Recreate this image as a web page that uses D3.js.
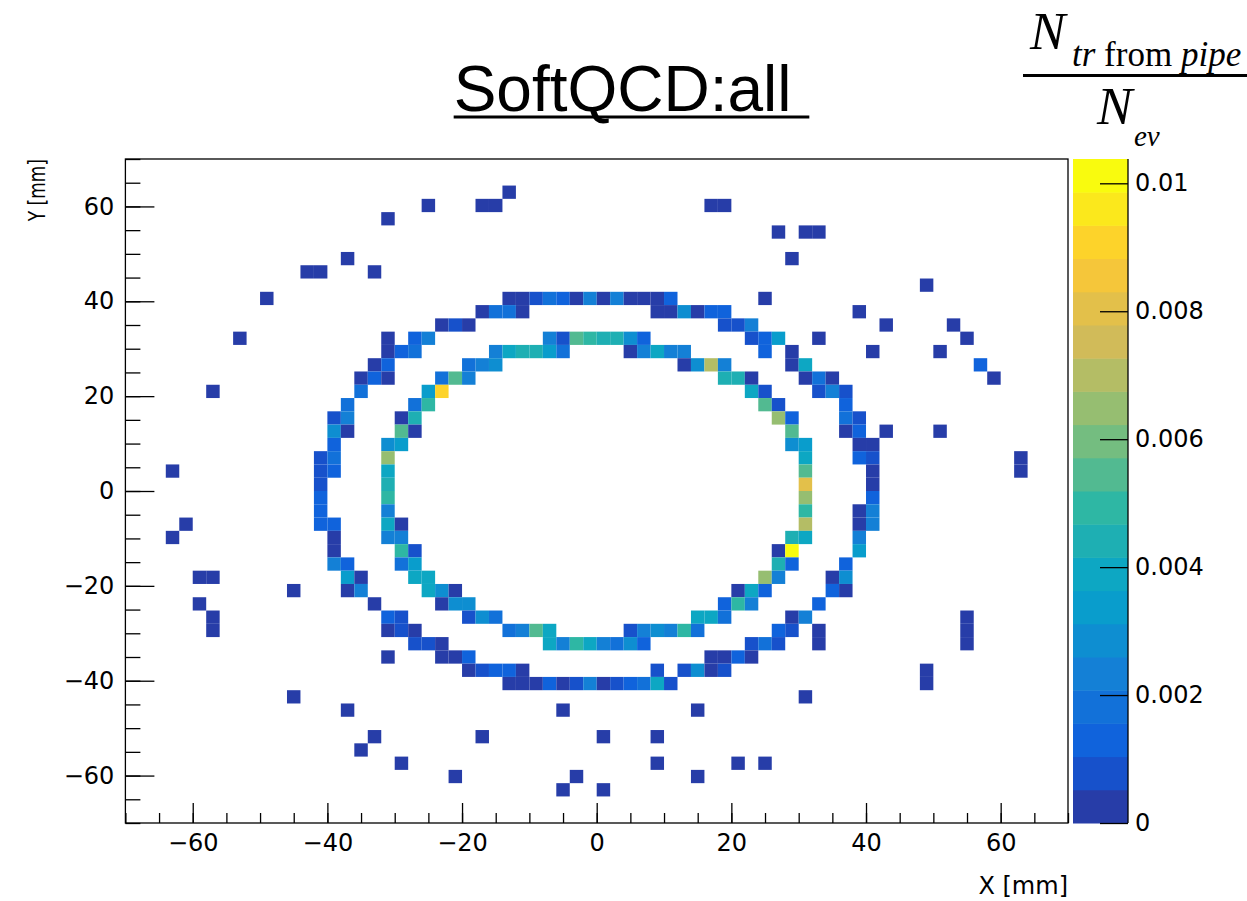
<!DOCTYPE html>
<html>
<head>
<meta charset="utf-8">
<script src="https://cdn.jsdelivr.net/npm/d3@7"></script>
<style>
  body { margin: 0; background: #fff; }
  .tick text { font-family: "DejaVu Sans", sans-serif; font-size: 24px; fill: #000; }
  .tick line { stroke: #000; stroke-width: 1.3; }
</style>
</head>
<body>
<div id="chart"></div>
<script>
var svgWidth = 1247;
var svgHeight = 901;

var margin = { top: 159, right: 179, bottom: 78, left: 125.4 };
var width = svgWidth - margin.left - margin.right;
var height = svgHeight - margin.top - margin.bottom;

// histogram binning (mm)
var xRange = [-70, 70];
var nBinsX = 70;
var yRange = [-70, 70];
var nBinsY = 50;

// colour axis
var zMax = 0.01038;
var nContours = 20;

var xTicks = [-60, -40, -20, 0, 20, 40, 60];
var yTicks = [-60, -40, -20, 0, 20, 40, 60];
var zTicks = [0, 0.002, 0.004, 0.006, 0.008, 0.01];

// filled bins: [x bin, y bin, N tr / N ev]
var scatterBins = [
  [28,47,.0003],[22,46,.0003],[26,46,.0003],[27,46,.0003],[43,46,.0003],[44,46,.0003],
  [19,45,.0003],[48,44,.0003],[50,44,.0003],[51,44,.0003],[16,42,.0003],[49,42,.0003],
  [13,41,.0003],[14,41,.0003],[18,41,.0003],[59,40,.0003],[10,39,.0003],[47,39,.0003],
  [54,38,.0003],[56,37,.0003],[61,37,.0003],[8,36,.0003],[51,36,.0003],[62,36,.0003],
  [55,35,.0003],[60,35,.0003],[63,34,.0013],[64,33,.0003],[6,32,.0003],[56,29,.0003],
  [60,29,.0003],[66,27,.0003],[66,26,.0003],[3,26,.0003],[4,22,.0003],[3,21,.0003],
  [5,18,.0003],[6,18,.0003],[12,17,.0003],[5,16,.0003],[6,15,.0003],[6,14,.0003],
  [62,15,.0003],[62,14,.0003],[62,13,.0003],[51,14,.0003],[51,13,.0003],[19,12,.0003],
  [59,11,.0003],[59,10,.0003],[12,9,.0003],[50,9,.0003],[16,8,.0003],[32,8,.0003],
  [42,8,.0003],[18,6,.0003],[26,6,.0003],[35,6,.0003],[39,6,.0003],[17,5,.0003],
  [20,4,.0003],[39,4,.0003],[45,4,.0003],[47,4,.0003],[24,3,.0003],[33,3,.0003],
  [42,3,.0003],[32,2,.0003],[35,2,.0003]
];

var outerRingBins = [
  [28,39,.0003],[29,39,.0003],[30,39,.0008],[31,39,.0018],[32,39,.0013],[33,39,.0003],[34,39,.0023],
  [35,39,.0003],[36,39,.0023],[37,39,.0003],[38,39,.0003],[39,39,.0003],[40,39,.0013],
  [26,38,.0003],[27,38,.0018],[28,38,.0018],[29,38,.0003],[39,38,.0003],[40,38,.0003],[41,38,.0029],
  [42,38,.0003],[43,38,.0013],[44,38,.0013],
  [23,37,.0003],[24,37,.0008],[25,37,.0003],[44,37,.0008],[45,37,.0008],[46,37,.0023],
  [19,36,.0003],[21,36,.0013],[22,36,.0023],[46,36,.0008],[47,36,.0013],[48,36,.0034],
  [19,35,.0003],[20,35,.0013],[21,35,.0018],[47,35,.0013],[49,35,.0003],
  [18,34,.0003],[19,34,.0013],[49,34,.0003],[50,34,.0039],
  [17,33,.0003],[18,33,.0013],[19,33,.0003],[50,33,.0003],[51,33,.0018],[52,33,.0003],
  [17,32,.0018],[51,32,.0008],[52,32,.0023],[53,32,.0008],
  [16,31,.0018],[53,31,.0013],
  [15,30,.0008],[16,30,.0023],[53,30,.0018],[54,30,.0008],
  [15,29,.0029],[16,29,.0003],[53,29,.0003],[54,29,.0013],
  [15,28,.0013],[54,28,.0003],[55,28,.0003],
  [14,27,.0008],[15,27,.0018],[54,27,.0013],[55,27,.0008],
  [14,26,.0008],[15,26,.0013],[55,26,.0003],
  [14,25,.0008],[55,25,.0003],
  [14,24,.0013],[55,24,.0013],
  [14,23,.0013],[54,23,.0003],[55,23,.0023],
  [14,22,.0013],[15,22,.0013],[54,22,.0003],[55,22,.0023],
  [15,21,.0003],[54,21,.0023],
  [15,20,.0003],[54,20,.0034],
  [15,19,.0023],[16,19,.0013],[53,19,.0013],
  [16,18,.0034],[17,18,.0003],[52,18,.0003],[53,18,.0029],
  [16,17,.0003],[17,17,.0023],[52,17,.0013],[53,17,.0003],
  [18,16,.0003],[51,16,.0013],
  [19,15,.0013],[20,15,.0008],[49,15,.0003],[50,15,.0023],
  [19,14,.0003],[20,14,.0008],[21,14,.0003],[48,14,.0013],[49,14,.0008],
  [21,13,.0008],[22,13,.0008],[23,13,.0003],[46,13,.0008],[47,13,.0018],[48,13,.0008],
  [23,12,.0003],[24,12,.0003],[25,12,.0013],[43,12,.0003],[44,12,.0003],[45,12,.0013],[46,12,.0003],
  [25,11,.0003],[26,11,.0008],[27,11,.0013],[28,11,.0013],[29,11,.0003],[39,11,.0008],[41,11,.0008],
  [42,11,.0029],[43,11,.0003],[44,11,.0008],
  [28,10,.0003],[29,10,.0003],[30,10,.0003],[31,10,.0013],[32,10,.0003],[33,10,.0008],[34,10,.0023],
  [35,10,.0003],[36,10,.0008],[37,10,.0013],[38,10,.0018],[39,10,.0039],[40,10,.0008]
];

var innerRingBins = [
  [31,36,.0023],[32,36,.0008],[33,36,.0055],[34,36,.0049],[35,36,.0044],[36,36,.0044],[37,36,.0029],[38,36,.0013],
  [27,35,.0023],[28,35,.0039],[29,35,.0044],[30,35,.0044],[31,35,.0034],[32,35,.0018],
  [37,35,.0003],[38,35,.0023],[39,35,.0039],[40,35,.0023],[41,35,.0023],
  [25,34,.0018],[26,34,.0023],[27,34,.0029],[41,34,.0003],[42,34,.0029],[43,34,.0070],[44,34,.0023],
  [23,33,.0018],[24,33,.0055],[25,33,.0023],[44,33,.0044],[45,33,.0044],[46,33,.0003],
  [22,32,.0034],[23,32,.0091],[46,32,.0039],[47,32,.0008],
  [21,31,.0018],[22,31,.0049],[47,31,.0055],[48,31,.0008],
  [20,30,.0003],[21,30,.0044],[48,30,.0065],[49,30,.0013],
  [20,29,.0055],[21,29,.0003],[49,29,.0055],
  [19,28,.0029],[20,28,.0034],[49,28,.0029],[50,28,.0034],
  [19,27,.0065],[50,27,.0039],
  [19,26,.0039],[50,26,.0055],
  [19,25,.0044],[50,25,.0080],
  [19,24,.0049],[50,24,.0065],
  [19,23,.0023],[50,23,.0049],
  [19,22,.0039],[20,22,.0003],[50,22,.0070],
  [19,21,.0023],[20,21,.0023],[49,21,.0044],[50,21,.0039],
  [20,20,.0049],[21,20,.0008],[48,20,.0003],[49,20,.01038],
  [20,19,.0018],[21,19,.0034],[48,19,.0044],[49,19,.0013],
  [21,18,.0039],[22,18,.0039],[47,18,.0065],[48,18,.0023],
  [22,17,.0039],[23,17,.0029],[24,17,.0003],[45,17,.0003],[46,17,.0039],[47,17,.0013],
  [23,16,.0003],[24,16,.0029],[25,16,.0029],[44,16,.0013],[45,16,.0049],[46,16,.0023],
  [25,15,.0008],[26,15,.0029],[27,15,.0018],[42,15,.0039],[43,15,.0039],[44,15,.0018],
  [28,14,.0018],[29,14,.0023],[30,14,.0055],[31,14,.0039],
  [37,14,.0008],[38,14,.0023],[39,14,.0029],[40,14,.0023],[41,14,.0049],[42,14,.0018],
  [31,13,.0039],[32,13,.0023],[33,13,.0049],[34,13,.0039],[35,13,.0023],[36,13,.0018],[37,13,.0029],[38,13,.0013]
];

// ROOT kBird palette
var birdStops = [0, 0.125, 0.25, 0.375, 0.5, 0.625, 0.75, 0.875, 1];
var birdRed   = [0.2082, 0.0592, 0.0780, 0.0232, 0.1802, 0.5301, 0.8186, 0.9956, 0.9764];
var birdGreen = [0.1664, 0.3599, 0.5041, 0.6419, 0.7178, 0.7492, 0.7328, 0.7862, 0.9832];
var birdBlue  = [0.5293, 0.8684, 0.8385, 0.7914, 0.6425, 0.4662, 0.3499, 0.1968, 0.0539];

var bird = d3.scaleLinear()
  .domain(birdStops)
  .range(birdStops.map((s, i) => d3.rgb(birdRed[i] * 255, birdGreen[i] * 255, birdBlue[i] * 255)))
  .interpolate(d3.interpolateRgb);

// colour of contour level k, the way ROOT picks it from a 255 colour table
function contourColor(k) {
  return bird(Math.floor((k + 0.99) * 255 / nContours) / 254);
}

function binColor(v) {
  var k = Math.min(nContours - 1, Math.floor(v / zMax * nContours));
  return contourColor(k);
}

var svg = d3.select("#chart")
  .append("svg")
  .attr("width", svgWidth)
  .attr("height", svgHeight);

var chartGroup = svg.append("g")
  .attr("transform", `translate(${margin.left}, ${margin.top})`);

var xScale = d3.scaleLinear().domain(xRange).range([0, width]);
var yScale = d3.scaleLinear().domain(yRange).range([height, 0]);
var zScale = d3.scaleLinear().domain([0, zMax]).range([height, 0]);

var dx = (xRange[1] - xRange[0]) / nBinsX;
var dy = (yRange[1] - yRange[0]) / nBinsY;

// bins
var allBins = scatterBins.concat(outerRingBins, innerRingBins);

chartGroup.append("g")
  .selectAll("rect")
  .data(allBins)
  .enter()
  .append("rect")
  .attr("x", d => xScale(xRange[0] + d[0] * dx))
  .attr("y", d => yScale(yRange[0] + (d[1] + 1) * dy))
  .attr("width", d => xScale(xRange[0] + (d[0] + 1) * dx) - xScale(xRange[0] + d[0] * dx))
  .attr("height", d => yScale(yRange[0] + d[1] * dy) - yScale(yRange[0] + (d[1] + 1) * dy))
  .attr("fill", d => binColor(d[2]));

// axes, ticks drawn inwards like ROOT
var xAxis = chartGroup.append("g")
  .attr("transform", `translate(0, ${height})`)
  .call(d3.axisBottom(xScale).tickValues(xTicks).tickSize(-20).tickPadding(11));

chartGroup.append("g")
  .attr("transform", `translate(0, ${height})`)
  .call(d3.axisBottom(xScale).tickValues(d3.range(-70, 71, 5)).tickSize(-10).tickFormat(""));

var yAxis = chartGroup.append("g")
  .call(d3.axisLeft(yScale).tickValues(yTicks).tickSize(-29).tickPadding(11));

chartGroup.append("g")
  .call(d3.axisLeft(yScale).tickValues(d3.range(-70, 71, 5)).tickSize(-15).tickFormat(""));

chartGroup.selectAll(".domain").remove();

// frame
chartGroup.append("rect")
  .attr("width", width)
  .attr("height", height)
  .attr("fill", "none")
  .attr("stroke", "#000")
  .attr("stroke-width", 1.3);

// palette
var paletteLeft = width + 5;
var paletteWidth = 55;
var levels = d3.range(nContours);

chartGroup.append("g")
  .selectAll("rect")
  .data(levels)
  .enter()
  .append("rect")
  .attr("x", paletteLeft)
  .attr("y", k => zScale((k + 1) * zMax / nContours))
  .attr("width", paletteWidth)
  .attr("height", k => zScale(k * zMax / nContours) - zScale((k + 1) * zMax / nContours) + 0.5)
  .attr("fill", k => contourColor(k));

var zAxis = chartGroup.append("g")
  .attr("transform", `translate(${paletteLeft + paletteWidth}, 0)`)
  .call(d3.axisRight(zScale).tickValues(zTicks).tickSize(-28).tickPadding(7).tickFormat(d3.format("~g")));

zAxis.select(".domain")
  .attr("stroke", "#000")
  .attr("stroke-width", 1.3)
  .attr("d", `M0,0V${height}`);

// title
var title = svg.append("text")
  .attr("x", 631.5)
  .attr("y", 111)
  .attr("text-anchor", "middle")
  .style("font-family", "'Liberation Sans', Arial, sans-serif")
  .style("font-size", "64px")
  .style("white-space", "pre")
  .attr("xml:space", "preserve")
  .text("SoftQCD:all ");

var titleLength = title.node().getComputedTextLength();
svg.append("line")
  .attr("x1", 631.5 - titleLength / 2)
  .attr("x2", 631.5 + titleLength / 2)
  .attr("y1", 117)
  .attr("y2", 117)
  .attr("stroke", "#000")
  .attr("stroke-width", 3);

// axis titles
svg.append("text")
  .attr("x", margin.left + width)
  .attr("y", 894)
  .attr("text-anchor", "end")
  .style("font-family", "'DejaVu Sans', sans-serif")
  .style("font-size", "24px")
  .text("X [mm]");

// the y title looks squeezed along its length in the original
svg.append("text")
  .attr("transform", `translate(45, ${margin.top}) rotate(-90) scale(0.74, 1)`)
  .attr("text-anchor", "end")
  .style("font-family", "'DejaVu Sans', sans-serif")
  .style("font-size", "23px")
  .text("Y [mm]");

// palette title  N_{tr from pipe} / N_{ev}
var serif = "'Liberation Serif', 'Times New Roman', serif";

svg.append("text")
  .attr("x", 1030)
  .attr("y", 49)
  .style("font-family", serif)
  .style("font-style", "italic")
  .style("font-size", "53px")
  .text("N");

var sub = svg.append("text")
  .attr("x", 1072)
  .attr("y", 66)
  .style("font-family", serif)
  .style("font-size", "35px")
  .attr("xml:space", "preserve");
sub.append("tspan").style("font-style", "italic").text("tr");
sub.append("tspan").text(" from ");
sub.append("tspan").style("font-style", "italic").text("pipe");

svg.append("line")
  .attr("x1", 1023)
  .attr("x2", 1247)
  .attr("y1", 75.5)
  .attr("y2", 75.5)
  .attr("stroke", "#000")
  .attr("stroke-width", 3);

svg.append("text")
  .attr("x", 1097)
  .attr("y", 124)
  .style("font-family", serif)
  .style("font-style", "italic")
  .style("font-size", "53px")
  .text("N");

svg.append("text")
  .attr("x", 1134)
  .attr("y", 146)
  .style("font-family", serif)
  .style("font-style", "italic")
  .style("font-size", "29px")
  .text("ev");
</script>
</body>
</html>
